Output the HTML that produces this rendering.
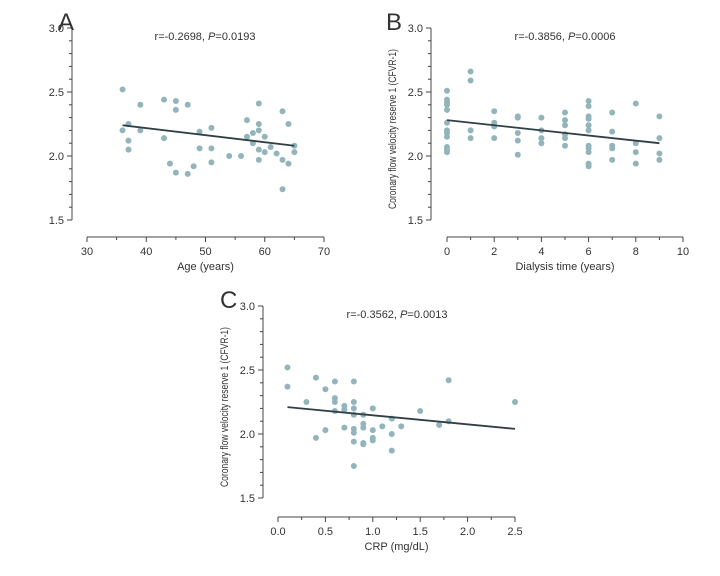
<!DOCTYPE html>
<html><head><meta charset="utf-8"><style>
body{margin:0;background:#fff;}
svg{display:block;font-family:"Liberation Sans",sans-serif;}
text{fill:#333;}
</style></head><body>
<svg id="s" width="720" height="576"></svg>
<script>
const ageX=[36,36,37,37,37,39,39,43,43,44,45,45,45,47,47,48,49,49,51,51,51,54,56,57,57,58,58,59,59,59,59,59,60,60,61,62,63,63,63,64,64,65,65];
const ageY=[2.52,2.20,2.25,2.12,2.05,2.40,2.20,2.44,2.14,1.94,2.43,2.36,1.87,2.40,1.86,1.92,2.19,2.06,2.22,2.06,1.95,2.00,2.00,2.28,2.15,2.18,2.10,2.41,2.25,2.20,2.05,1.97,2.15,2.03,2.07,2.02,2.35,1.97,1.74,2.25,1.94,2.08,2.03];
const dialX=[0,0,0,0,0,0,0,0,0,0,0,0,1,1,1,1,2,2,2,2,3,3,3,3,3,4,4,4,4,5,5,5,5,5,5,6,6,6,6,6,6,6,6,6,6,6,7,7,7,7,7,8,8,8,8,9,9,9,9];
const dialY=[2.51,2.44,2.42,2.40,2.36,2.26,2.20,2.18,2.15,2.07,2.05,2.03,2.66,2.59,2.20,2.14,2.35,2.26,2.23,2.14,2.31,2.30,2.18,2.12,2.01,2.30,2.20,2.14,2.10,2.34,2.28,2.24,2.17,2.14,2.08,2.43,2.39,2.31,2.29,2.24,2.20,2.08,2.06,2.03,1.94,1.92,2.34,2.19,2.08,2.06,1.97,2.41,2.10,2.03,1.94,2.31,2.14,2.02,1.97];
const crpX=[0.1,0.1,0.3,0.4,0.4,0.5,0.5,0.6,0.6,0.6,0.6,0.7,0.7,0.7,0.8,0.8,0.8,0.8,0.8,0.8,0.8,0.8,0.9,0.9,0.9,0.9,0.9,1.0,1.0,1.0,1.0,1.1,1.2,1.2,1.2,1.3,1.5,1.7,1.8,1.8,2.5];
const crpY=[2.52,2.37,2.25,2.44,1.97,2.35,2.03,2.41,2.28,2.25,2.18,2.22,2.19,2.05,2.41,2.25,2.20,2.15,2.04,2.01,1.94,1.75,2.15,2.08,2.05,1.93,1.92,2.20,2.03,1.97,1.95,2.06,2.12,2.00,1.87,2.06,2.18,2.07,2.42,2.10,2.25];
const yTicks=["1.5","2.0","2.5","3.0"];
const ageTicks=["30","40","50","60","70"];
const dialTicks=["0","2","4","6","8","10"];
const crpTicks=["0.0","0.5","1.0","1.5","2.0","2.5"];
const fitA=[[36,2.24],[65,2.08]];
const fitB=[[0,2.28],[9,2.10]];
const fitC=[[0.1,2.21],[2.5,2.04]];
const NS="http://www.w3.org/2000/svg";
const svg=document.getElementById('s');
function el(t,a,p){const e=document.createElementNS(NS,t);for(const k in a)e.setAttribute(k,a[k]);(p||svg).appendChild(e);return e;}
function panel(o){
 const g=el('g',{});
 
 
 const sx=v=>o.x0+(v-o.xmin)/(o.xmax-o.xmin)*(o.x1-o.x0);
 const sy=v=>o.yb+(v-1.5)/1.5*(o.yt-o.yb);
 const c='#444';
 const ya=el('line',{x1:o.ax,y1:o.yt,x2:o.ax,y2:o.yb,stroke:c,'stroke-width':1},g);
 
 for(let i=0;i<=15;i++){const y=sy(1.5+i*0.1);const L=(i%5==0)?5:3;el('line',{x1:o.ax-L,y1:y,x2:o.ax,y2:y,stroke:c},g);}
 yTicks.forEach(t=>{const tx=el('text',{x:o.ax-8,y:sy(+t)+4,'text-anchor':'end','font-size':11},g);tx.textContent=t;
  });
 const xa=el('line',{x1:o.x0,y1:o.xy,x2:o.x1,y2:o.xy,stroke:c},g);
 
 const n=o.ticks.length-1;
 for(let i=0;i<=n*2;i++){const x=o.x0+i/(n*2)*(o.x1-o.x0);el('line',{x1:x,y1:o.xy,x2:x,y2:o.xy+(i%2==0?5:3),stroke:c},g);}
 o.ticks.forEach(t=>{const tx=el('text',{x:sx(+t),y:o.xy+18,'text-anchor':'middle','font-size':11},g);tx.textContent=t;
  });
 const xt=el('text',{x:(o.x0+o.x1)/2,y:o.xy+33,'text-anchor':'middle','font-size':11},g);xt.textContent=o.xt;
 
 if(o.ytx){
 const ytt=el('text',{x:0,y:0,'text-anchor':'middle','font-size':11,textLength:160,lengthAdjust:'spacingAndGlyphs',transform:`translate(${o.ytx},${(o.yt+o.yb)/2+5}) rotate(-90)`},g);
 ytt.textContent='Coronary flow velocity reserve 1 (CFVR-1)';
 
 }
 const st=el('text',{x:o.stx,y:o.yt+12,'text-anchor':'middle','font-size':11},g);
 st.innerHTML='r=-'+o.r+', <tspan font-style="italic">P</tspan>='+o.p;
 
 const lb=el('text',{x:o.lx,y:o.ly,'font-size':24},g);lb.textContent=o.id;
 
 o.X.forEach((v,i)=>{const d=el('circle',{cx:sx(v),cy:sy(o.Y[i]),r:3,fill:'#93b4bb'},g);
  });
 const f=el('line',{x1:sx(o.fit[0][0]),y1:sy(o.fit[0][1]),x2:sx(o.fit[1][0]),y2:sy(o.fit[1][1]),stroke:'#2f3f45','stroke-width':1.8},g);
 
}
panel({id:'A',ax:72,yt:28,yb:220,xy:237,x0:87,x1:324,xmin:30,xmax:70,ticks:ageTicks,xt:'Age (years)',ytx:0,stx:205,r:'0.2698',p:'0.0193',X:ageX,Y:ageY,fit:fitA,lx:58,ly:30});
panel({id:'B',ax:431,yt:28,yb:220,xy:237,x0:447,x1:683,xmin:0,xmax:10,ticks:dialTicks,xt:'Dialysis time (years)',ytx:396,stx:565,r:'0.3856',p:'0.0006',X:dialX,Y:dialY,fit:fitB,lx:386,ly:30});
panel({id:'C',ax:263,yt:306,yb:498,xy:517,x0:278,x1:515,xmin:0,xmax:2.5,ticks:crpTicks,xt:'CRP (mg/dL)',ytx:228,stx:397,r:'0.3562',p:'0.0013',X:crpX,Y:crpY,fit:fitC,lx:220,ly:308});
</script>
</body></html>
